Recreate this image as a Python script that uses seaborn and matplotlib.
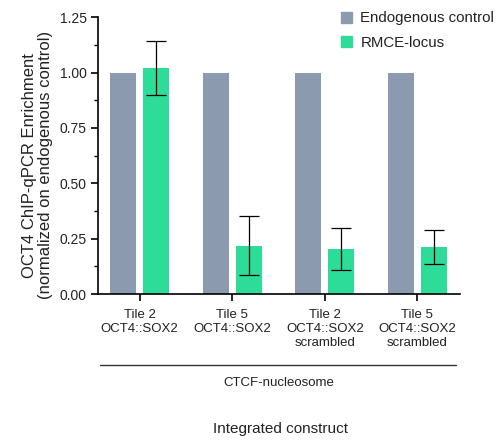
import matplotlib
matplotlib.use("Agg")
import matplotlib.pyplot as plt
import seaborn as sns
import pandas as pd
import numpy as np
from matplotlib.ticker import MultipleLocator

categories = ["Tile 2\nOCT4::SOX2", "Tile 5\nOCT4::SOX2",
              "Tile 2\nOCT4::SOX2\nscrambled", "Tile 5\nOCT4::SOX2\nscrambled"]
series = ["Endogenous control", "RMCE-locus"]
endogenous = [1.0, 1.0, 1.0, 1.0]
rmce = [1.02, 0.218, 0.202, 0.214]
rmce_err = [0.122, 0.133, 0.095, 0.076]
colors = ["#8C9AB0", "#2EDC9A"]

sns.set_theme(style="ticks")
plt.rcParams['font.family'] = ['Liberation Sans', 'DejaVu Sans']

df = pd.DataFrame({
    "construct": categories * 2,
    "series": [series[0]] * 4 + [series[1]] * 4,
    "value": endogenous + rmce,
})

fig = plt.figure(figsize=(5, 4.41), dpi=100)
ax = fig.add_axes([0.196, 0.333, 0.724, 0.628])
sns.barplot(data=df, x="construct", y="value", hue="series", order=categories,
            hue_order=series, palette=colors, errorbar=None, width=0.71, gap=0.21,
            saturation=1, ax=ax, legend=True, linewidth=0)

# error bars for RMCE series
green = ax.containers[1]
xs = [p.get_x() + p.get_width() / 2 for p in green]
ax.errorbar(xs, rmce, yerr=rmce_err, fmt='none', ecolor='black',
            elinewidth=0.9, capsize=7, capthick=0.9, zorder=5)

ax.set_xlim(-0.45, 3.46)
ax.set_ylim(0, 1.25)
ax.yaxis.set_major_locator(MultipleLocator(0.25))
ax.yaxis.set_minor_locator(MultipleLocator(0.125))
ax.yaxis.set_major_formatter(matplotlib.ticker.FormatStrFormatter('%.2f'))
sns.despine(ax=ax)
for s in ["left", "bottom"]:
    ax.spines[s].set_color("black")
    ax.spines[s].set_linewidth(1.2)
ax.tick_params(axis='both', which='major', length=5, width=1.2, color='black',
               labelcolor='#222222')
ax.tick_params(axis='y', which='major', labelsize=10, pad=3)
ax.tick_params(axis='x', which='major', labelsize=9.5, pad=6)
ax.tick_params(axis='y', which='minor', length=3, width=1.0, color='black')
ax.set_xlabel("")
ax.set_ylabel("OCT4 ChIP-qPCR Enrichment\n(normalized on endogenous control)",
              fontsize=12, color='#222222', linespacing=1.05)
ax.yaxis.set_label_coords(-0.125, 0.465)
for lbl in ax.get_xticklabels():
    lbl.set_linespacing(1.2)

leg = ax.get_legend()
leg.remove()
handles = [plt.Rectangle((0, 0), 1, 1, color=c) for c in colors]
fig.legend(handles, series, loc="upper left", bbox_to_anchor=(0.655, 1.005),
           frameon=False, fontsize=10.8, handlelength=0.75, handleheight=0.75,
           handletextpad=0.55, labelspacing=0.7, labelcolor='#222222')

ax.plot([0.005, 0.99], [-0.256, -0.256], transform=ax.transAxes, color='#333333',
        lw=1.0, clip_on=False)
ax.text(0.5, -0.32, "CTCF-nucleosome", transform=ax.transAxes, ha='center',
        va='center', fontsize=9.5, color='#222222')
ax.text(0.503, -0.487, "Integrated construct", transform=ax.transAxes, ha='center',
        va='center', fontsize=11, color='#222222')

fig.savefig("out.png", dpi=100)
